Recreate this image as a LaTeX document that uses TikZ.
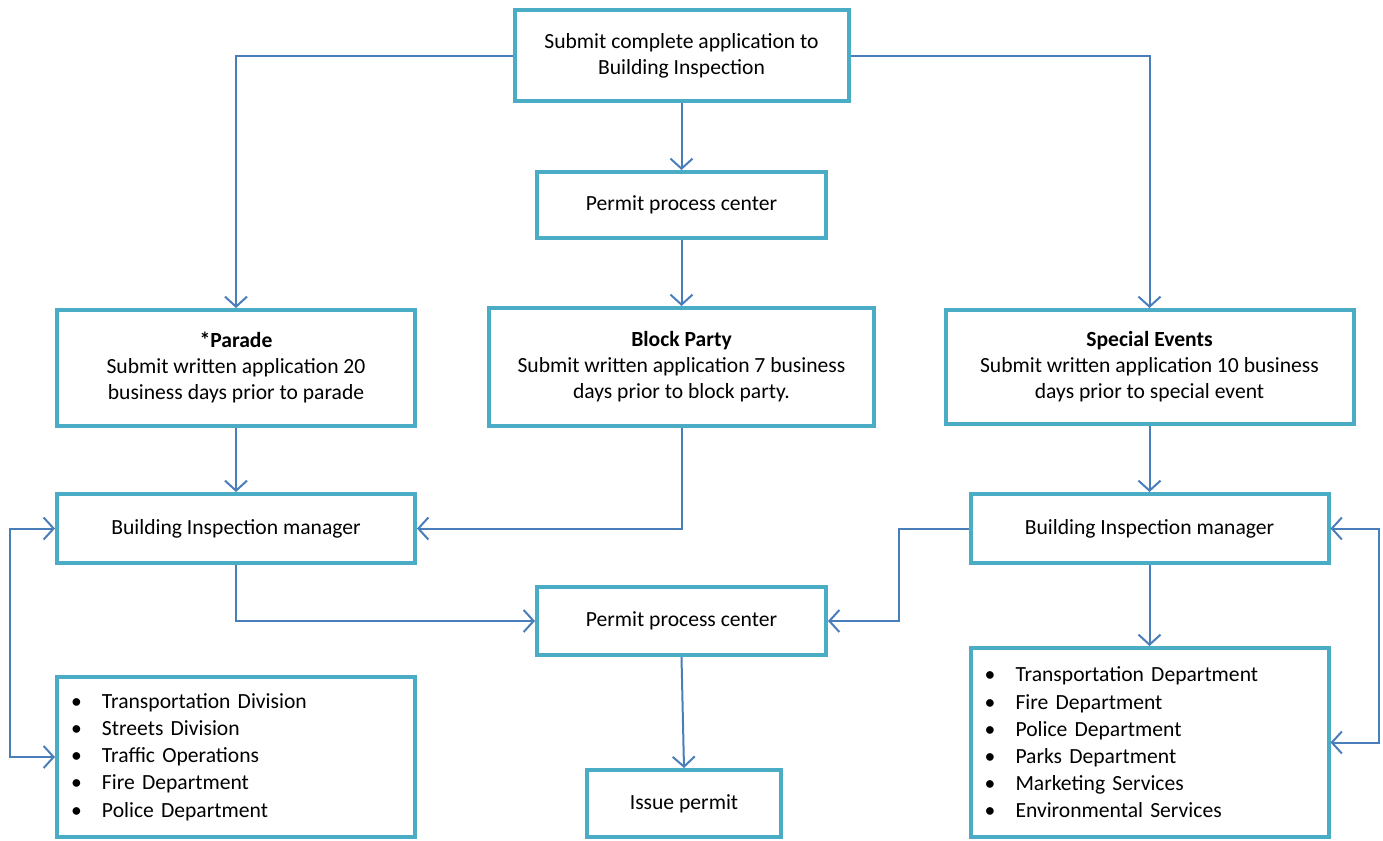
\documentclass[tikz,border=0pt]{standalone}
\usepackage{fontspec}
\setmainfont{Carlito}
\usetikzlibrary{arrows.meta}

\definecolor{boxline}{HTML}{4BACC6}
\definecolor{arrline}{HTML}{4A7EBB}

\tikzset{
  box/.style={draw=boxline, line width=2pt, fill=white, align=center,
    font=\fontsize{10.8}{13}\selectfont, inner sep=0pt},
  listbox/.style={box, align=left, font=\fontsize{10.8}{13.6}\selectfont,
    text width=165pt},
  link/.style={draw=arrline, line width=1pt, -{Straight Barb[length=5pt,width=11pt,line width=1pt]}},
  twoway/.style={link, {Straight Barb[length=5pt,width=11pt,line width=1pt]}-{Straight Barb[length=5pt,width=11pt,line width=1pt]}}
}
\newcommand\itm{\makebox[15.5pt][l]{\textbullet}}

\begin{document}
\begin{tikzpicture}[x=0.5pt,y=-0.5pt]
\useasboundingbox (0,0) rectangle (1383,841);

\node[box, minimum width=167pt, minimum height=45.5pt] (top) at (681.5,55.5)
  {Submit complete application to\\Building Inspection};
\node[box, minimum width=144.5pt, minimum height=33pt] (ppc1) at (681.5,205)
  {Permit process center};

\node[box, minimum width=179pt, minimum height=58pt] (parade) at (236,368)
  {\textbf{*Parade}\\Submit written application 20\\business days prior to parade};
\node[box, minimum width=192.5pt, minimum height=59pt] (block) at (681.5,367)
  {\textbf{Block Party}\\Submit written application 7 business\\days prior to block party.};
\node[box, minimum width=204pt, minimum height=57pt] (special) at (1149.5,367)
  {\textbf{Special Events}\\Submit written application 10 business\\days prior to special event};

\node[box, minimum width=179pt, minimum height=34.5pt] (bimL) at (236,528.5)
  {Building Inspection manager};
\node[box, minimum width=179pt, minimum height=34.5pt] (bimR) at (1149.5,528.5)
  {Building Inspection manager};
\node[box, minimum width=144.5pt, minimum height=34pt] (ppc2) at (681.5,621)
  {Permit process center};

\node[listbox, minimum width=179pt, minimum height=80pt] (listL) at (236,757)
  {\itm Transportation Division\\\itm Streets Division\\\itm Traffic Operations\\
   \itm Fire Department\\\itm Police Department};
\node[box, minimum width=97pt, minimum height=33.5pt] (issue) at (684,803.5)
  {Issue permit};
\node[listbox, minimum width=179pt, minimum height=94.5pt] (listR) at (1149.5,742.5)
  {\itm Transportation Department\\\itm Fire Department\\\itm Police Department\\
   \itm Parks Department\\\itm Marketing Services\\\itm Environmental Services};

% connectors
\draw[link] (top.west) -| (parade.north);
\draw[link] (top.east) -| (special.north);
\draw[link] (top.south) -- (ppc1.north);
\draw[link] (ppc1.south) -- (block.north);
\draw[link] (parade.south) -- (bimL.north);
\draw[link] (block.south) |- (bimL.east);
\draw[link] (special.south) -- (bimR.north);
\draw[link] (bimL.south) |- (ppc2.west);
\draw[link] (bimR.west) -- ++(-70,0) |- (ppc2.east);
\draw[link] (bimR.south) -- (listR.north);
\draw[link] (ppc2.south) -- (issue.north);
\draw[twoway] (bimL.west) -- ++(-45,0) |- (listL.west);
\draw[twoway] (bimR.east) -- ++(48,0) |- (listR.east);

\end{tikzpicture}
\end{document}
